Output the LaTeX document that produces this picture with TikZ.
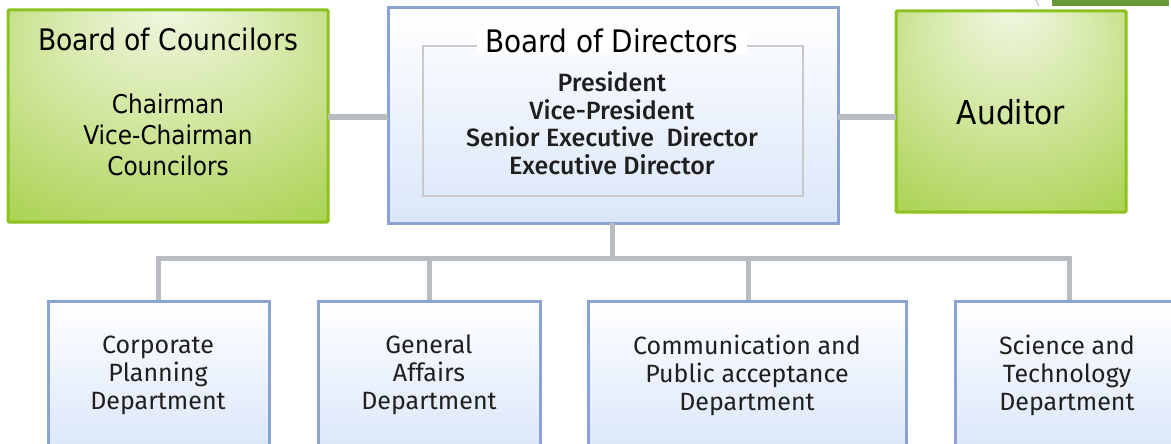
\documentclass[tikz,border=0pt]{standalone}
\usepackage{fontspec}
\setmainfont{DejaVu Sans Condensed}
\newfontfamily\deptfont{Fira Sans}[BoldFont={Fira Sans Medium}]
\usetikzlibrary{positioning}

\definecolor{greenedge}{HTML}{8CC21F}
\definecolor{greenlight}{HTML}{F2F8E6}
\definecolor{greenmid}{HTML}{CFE59A}
\definecolor{greendark}{HTML}{A4CF45}
\definecolor{blueedge}{HTML}{8AA3D3}
\definecolor{bluefill}{HTML}{DAE6F9}
\definecolor{linkgray}{HTML}{B9BCC1}
\definecolor{innergray}{HTML}{C9C9C9}
\definecolor{stripgreen}{HTML}{6A983A}

% soft glow: light near the top centre, green towards the edges
\pgfdeclareradialshading{greenglow}{\pgfpoint{0bp}{28bp}}{%
  color(0bp)=(greenlight); color(22bp)=(greenmid); color(45bp)=(greendark); color(60bp)=(greendark)}

\tikzset{
  greenbox/.style={draw=greenedge, line width=3pt, shading=greenglow, rounded corners=1pt},
  bluebox/.style={draw=blueedge, line width=3pt, top color=white, bottom color=bluefill},
  link/.style={draw=linkgray, line width=5pt},
  innerframe/.style={draw=innergray, line width=1.4pt},
  gtext/.style={font=\fontsize{25.8}{31}\selectfont, align=center, text=black},
  dtext/.style={font=\deptfont\fontsize{25}{28}\selectfont, align=center, text=black!88},
}

\begin{document}
\begin{tikzpicture}[x=1pt,y=-1pt]
\useasboundingbox (0,0) rectangle (1171,444);

% partial green banner at the top edge
\fill[stripgreen] (1052,0) rectangle (1169,6);
\draw[gray!60, line width=0.8pt] (1036,0) .. controls (1037,3) .. (1039,6);

% board of councilors
\path[greenbox] (8,10) rectangle (328,222);
\node[gtext, font=\fontsize{29.6}{30}\selectfont] (boc) at (168,39) {Board of Councilors};
\node[gtext] (bocm) at (168,135) {Chairman\\Vice-Chairman\\Councilors};
\coordinate (bocR) at (328,117);

% board of directors
\path[bluebox] (388,8) rectangle (838,223);
\path[innerframe] (423,46) rectangle (803,196);
\node[fill=white, inner xsep=9pt, inner ysep=0pt, font=\fontsize{31}{32}\selectfont] (bod) at (612,41) {Board of Directors};
\node[dtext, font=\deptfont\bfseries\fontsize{25}{27.5}\selectfont] (bodm) at (612,123)
  {President\\Vice-President\\Senior Executive\ \ Director\\Executive Director};
\coordinate (bodL) at (388,117);
\coordinate (bodR) at (838,117);
\coordinate (bodB) at (612,223);

% auditor
\path[greenbox] (896,11) rectangle (1126,212);
\node[gtext, font=\fontsize{33}{36}\selectfont] (aud) at (1011,112) {Auditor};
\coordinate (audL) at (896,117);

% departments
\path[bluebox] (48,301) rectangle (269,450);
\node[dtext] (d1) at (158,375) {Corporate\\Planning\\Department};
\path[bluebox] (318,301) rectangle (540,450);
\node[dtext] (d2) at (429,375) {General\\Affairs\\Department};
\path[bluebox] (588,301) rectangle (906,450);
\node[dtext] (d3) at (747,375) {Communication and\\Public acceptance\\Department};
\path[bluebox] (955,301) rectangle (1180,450);
\node[dtext] (d4) at (1067,375) {Science and\\Technology\\Department};

\coordinate (t1) at (158,300);
\coordinate (t2) at (429,300);
\coordinate (t3) at (748,300);
\coordinate (t4) at (1069,300);
\coordinate (bus) at (612,258);

% connectors
\draw[link] (bocR) -- (bodL);
\draw[link] (bodR) -- (audL);
\draw[link] (bodB) -- (bus);
\draw[link] (t1) |- (bus) -| (t4);
\draw[link] (t2) -- (t2 |- bus);
\draw[link] (t3) -- (t3 |- bus);
\end{tikzpicture}
\end{document}
